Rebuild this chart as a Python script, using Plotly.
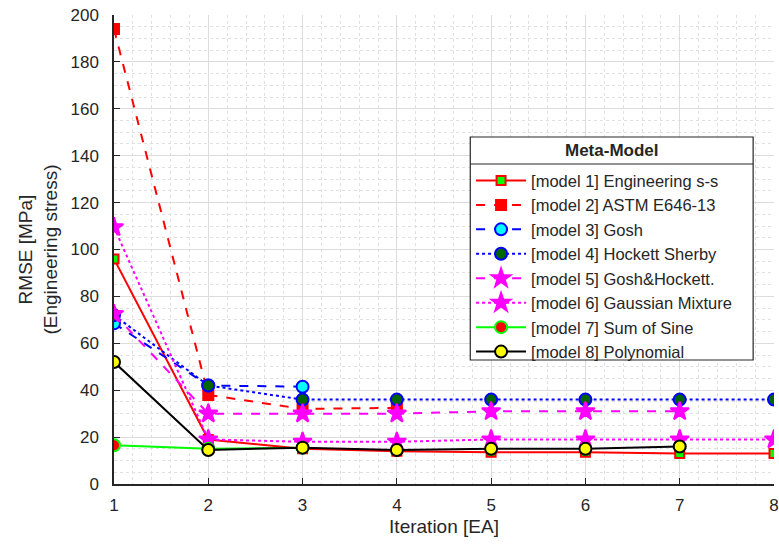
import plotly.graph_objects as go

iters = [1, 2, 3, 4, 5, 6, 7, 8]
names = [
    "[model 1] Engineering s-s",
    "[model 2] ASTM E646-13",
    "[model 3] Gosh",
    "[model 4] Hockett Sherby",
    "[model 5] Gosh&Hockett.",
    "[model 6] Gaussian Mixture",
    "[model 7] Sum of Sine",
    "[model 8] Polynomial",
]
legend_title = "Meta-Model"
m1 = [96, 19, 15, 14, 13.5, 13.5, 13, 13]
m2 = [194, 38, 32, 32.5]
m3 = [68.5, 42, 41.5]
m4 = [72, 42, 36, 36, 36, 36, 36, 36]
m5 = [72.5, 30, 30, 30, 31, 31, 31]
m6 = [109.5, 19, 18, 18, 19, 19, 19, 19]
m7 = [16.5, 15, 15.5]
m8 = [52, 14.5, 15.5, 14.5, 15, 15, 16]
series = [m1, m2, m3, m4, m5, m6, m7, m8]

styles = [
    dict(lc="#ff0000", dash="solid", sym="square", ms=9, fc="#00ff00", ec="#ff0000"),
    dict(lc="#ff0000", dash="dash", sym="square", ms=10, fc="#ff0000", ec="#ff0000"),
    dict(lc="#0000ff", dash="dash", sym="circle", ms=12, fc="#00ffff", ec="#0000ff"),
    dict(lc="#0000ff", dash="dot", sym="circle", ms=12, fc="#006400", ec="#0000ff"),
    dict(lc="#ff00ff", dash="dash", sym="star", ms=14, fc="#ff00ff", ec="#ff00ff"),
    dict(lc="#ff00ff", dash="dot", sym="star", ms=14, fc="#ff00ff", ec="#ff00ff"),
    dict(lc="#00ff00", dash="solid", sym="circle", ms=12, fc="#ff0000", ec="#00ff00"),
    dict(lc="#000000", dash="solid", sym="circle", ms=12, fc="#ffff00", ec="#000000"),
]

fig = go.Figure()
for name, ys, st in zip(names, series, styles):
    fig.add_trace(go.Scatter(
        x=iters[:len(ys)], y=ys, name=name, mode="lines+markers",
        line=dict(color=st["lc"], width=2, dash=st["dash"]),
        marker=dict(symbol=st["sym"], size=st["ms"], color=st["fc"],
                    line=dict(color=st["ec"], width=2)),
    ))

font = "Liberation Sans, Arial, sans-serif"
fig.update_layout(
    width=779, height=545,
    margin=dict(l=114, r=0, t=15, b=61),
    paper_bgcolor="white", plot_bgcolor="white",
    font=dict(family=font, size=17, color="#262626"),
    showlegend=True,
    legend=dict(
        x=0.541, y=0.684, xanchor="left", yanchor="top",
        bgcolor="rgba(0,0,0,0)", borderwidth=0,
        font=dict(size=16.5, color="#262626"),
        itemwidth=50, tracegroupgap=0,
    ),
    xaxis=dict(
        range=[1, 8], tickvals=iters, ticks="inside", ticklen=6, tickcolor="#262626",
        showline=True, linecolor="#262626", linewidth=1.5,
        showgrid=True, gridcolor="#dcdcdc", gridwidth=1, zeroline=False,
        minor=dict(dtick=0.2, showgrid=True, gridcolor="#e0e0e0", griddash="dot", ticks=""),
        title=dict(text="Iteration [EA]", font=dict(size=19), standoff=6),
        tickfont=dict(size=17), ticklabelstandoff=5, ticklabeloverflow="allow",
    ),
    yaxis=dict(
        range=[0, 200], dtick=20, ticks="inside", ticklen=6, tickcolor="#262626",
        showline=True, linecolor="#262626", linewidth=1.5,
        showgrid=True, gridcolor="#dcdcdc", gridwidth=1, zeroline=False,
        minor=dict(dtick=5, showgrid=True, gridcolor="#e0e0e0", griddash="dot", ticks=""),
        title=dict(text="RMSE [MPa]<br>(Engineering stress)", font=dict(size=19), standoff=8),
        tickfont=dict(size=17), ticklabelstandoff=10,
    ),
)
# legend box, title separator and title
fig.add_shape(type="rect", xref="paper", yref="paper",
              x0=0.5398, x1=0.9684, y0=0.2644, y1=0.7399,
              fillcolor="white", line=dict(color="#262626", width=1.2), layer="above")
fig.add_shape(type="line", xref="paper", yref="paper",
              x0=0.5398, x1=0.9684, y0=0.6823, y1=0.6823,
              line=dict(color="#262626", width=1.2), layer="above")
fig.add_annotation(text="<b>" + legend_title + "</b>", xref="paper", yref="paper",
                   x=0.7541, y=0.711, xanchor="center", yanchor="middle",
                   showarrow=False, font=dict(size=17, color="#262626"))
fig.write_html("out.html")
